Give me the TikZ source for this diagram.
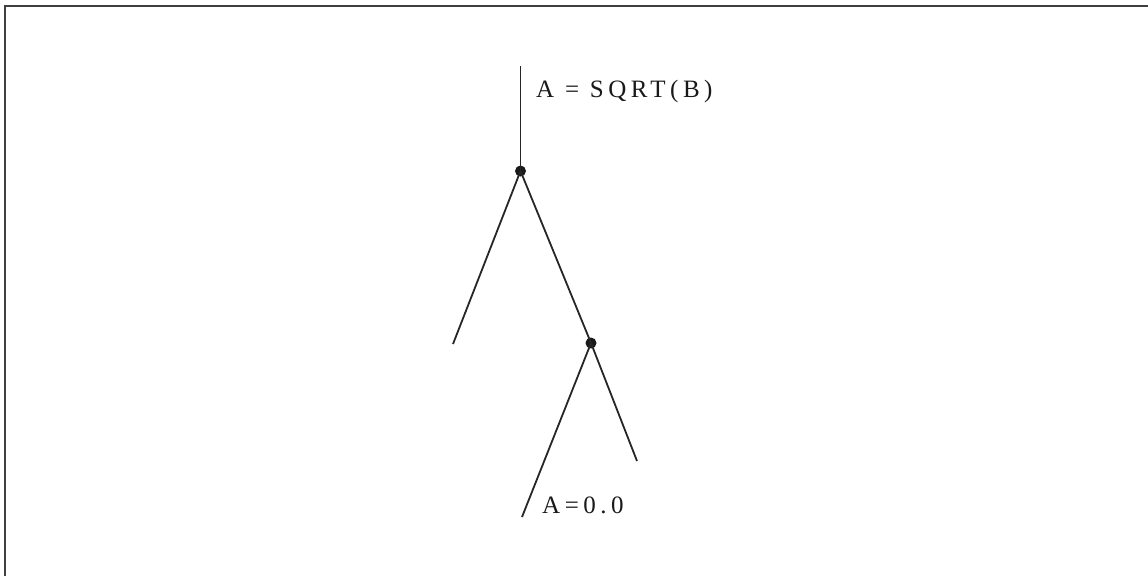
\documentclass[tikz,border=0pt]{standalone}
\usepackage{fontspec}
\setmainfont{Liberation Serif}
\begin{document}
\begin{tikzpicture}[x=1pt,y=-1pt,
  branch/.style={line width=1.8pt, draw=black!85},
  joint/.style={circle, fill=black!90, inner sep=0pt, minimum size=11pt},
  lbl/.style={inner sep=0pt, text=black!90, font=\fontsize{25}{30}\selectfont\addfontfeature{LetterSpace=18}},
  frameline/.style={line width=2pt, draw=black!75}]
\useasboundingbox (0,0) rectangle (1148,576);
\draw[frameline] (4.5,576) -- (4.5,5.5) -- (1148,5.5);
\coordinate (top) at (520.5,66);
\node[joint] (j1) at (520.5,171) {};
\node[joint] (j2) at (591,343) {};
\coordinate (l1) at (453,344);
\coordinate (l2) at (522,517);
\coordinate (r2) at (637,461);
\draw[branch] (top) -- (j1.center);
\draw[branch] (j1.center) -- (l1);
\draw[branch] (j1.center) -- (j2.center);
\draw[branch] (j2.center) -- (l2);
\draw[branch] (j2.center) -- (r2);
\node[lbl, anchor=base west] (t1) at (536,97.5) {A = SQRT(B)};
\node[lbl, anchor=base west] (t2) at (542,513) {A=0.0};
\end{tikzpicture}
\end{document}
